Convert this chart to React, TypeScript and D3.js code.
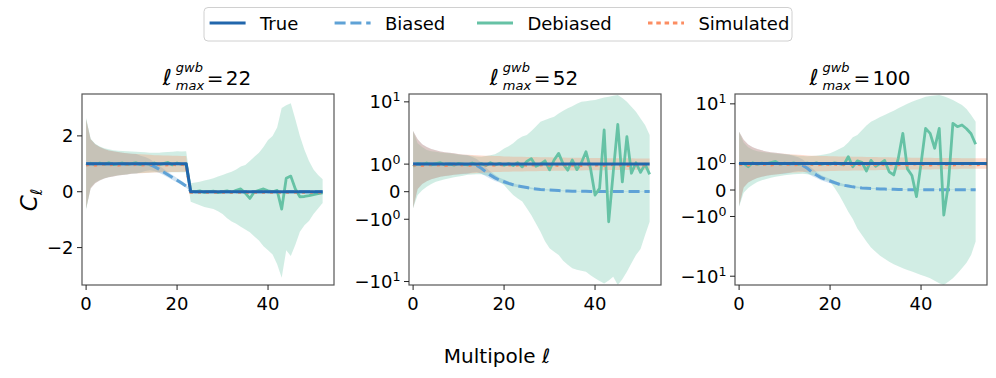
import React from 'react';
import * as d3 from 'd3';

const W = 996;
const H = 378;
const FONT = 'DejaVu Sans, sans-serif';

const C_TRUE = '#2166ac';
const C_BIAS = '#5fa2d6';
const C_DEB = '#66c2a5';
const C_SIM = '#fc8d62';

// multipole index (x categories)
const ELL = d3.range(0, 53);
const ELL_LONG = d3.range(0, 56);

const LEGEND_LABELS = ['True', 'Biased', 'Debiased', 'Simulated'];
const X_TICKS = [0, 20, 40];
const LIN_TICKS = [-2, 0, 2];
const SYM_TICKS = [-10, -1, 0, 1, 10];
const TITLES = ['22', '52', '100'];

// ---- panel 1: l_max = 22 (linear y) ----
const trueA = [1,1,1,1,1,1,1,1,1,1, 1,1,1,1,1,1,1,1,1,1, 1,1,1, 0,0,0,0,0,0,0, 0,0,0,0,0,0,0,0,0,0, 0,0,0,0,0,0,0,0,0,0, 0,0,0];
const biasA = [1,1,1,1,1,1,1,1,1,1, 1,1,0.99,0.99,0.97,0.9,0.81,0.71,0.61,0.51, 0.41,0.31,0.2,0.02,0,0,0,0,0,0, 0,0,0,0,0,0,0,0,0,0, 0,0,0,0,0,0,0,0,0,0, 0,0,0];
const debA = [0.95,1.02,0.97,1.03,0.98,1.04,0.97,1.0,1.03,0.97, 1.01,1.04,0.97,1.02,0.98,1.03,0.97,1.01,1.05,0.96, 1.03,0.98,1.0, 0.02,0.0,0.03,-0.02,0.0,0.02,-0.03,0.0,0.03,-0.02, 0.05,0.1,-0.05,-0.24,0.0,0.05,0.1,0.03,0.0,0.05, -0.62,0.48,0.56,0.1,-0.18,-0.17,-0.14,-0.1,-0.07,-0.04];
const simA = [0.96,0.98,0.95,0.97,0.99,0.96,0.98,0.95,0.97,0.99, 0.96,0.98,0.95,0.97,0.99,0.96,0.98,0.95,0.97,0.99, 0.96,0.98,0.95, -0.02,-0.02,-0.02,-0.02,-0.02,-0.02,-0.02, -0.02,-0.02,-0.02,-0.02,-0.02,-0.02,-0.02,-0.02,-0.02,-0.02, -0.02,-0.02,-0.02,-0.02,-0.02,-0.02,-0.02,-0.02,-0.02,-0.02, -0.02,-0.02,-0.02];
const simErrA = [1.6,0.88,0.7,0.6,0.53,0.48,0.45,0.42,0.4,0.38, 0.36,0.35,0.34,0.33,0.32,0.31,0.31,0.3,0.3,0.29, 0.29,0.28,0.28, 0.02,0.02,0.02,0.02,0.02,0.02,0.02, 0.02,0.02,0.02,0.02,0.02,0.02,0.02,0.02,0.02,0.02, 0.02,0.02,0.02,0.02,0.02,0.02,0.02,0.02,0.02,0.02, 0.02,0.02,0.02];
const biasErrA = [1.6,0.88,0.7,0.6,0.53,0.48,0.45,0.42,0.4,0.38, 0.36,0.35,0.3,0.25,0.2,0.16,0.13,0.11,0.1,0.09, 0.08,0.07,0.06, 0.02,0.02,0.02,0.02,0.02,0.02,0.02, 0.02,0.02,0.02,0.02,0.02,0.02,0.02,0.02,0.02,0.02, 0.02,0.02,0.02,0.02,0.02,0.02,0.02,0.02,0.02,0.02, 0.02,0.02,0.02];
const debHiA = [2.65,1.9,1.72,1.62,1.56,1.52,1.49,1.47,1.46,1.45, 1.44,1.43,1.42,1.41,1.4,1.4,1.4,1.41,1.42,1.43, 1.45,1.44,1.45, 0.3,0.33,0.36,0.4,0.44,0.48,0.55,0.6,0.66,0.72, 0.8,0.9,0.96,1.1,1.25,1.4,1.6,1.85,2.0,2.3, 3.0,3.1,3.17,2.6,2.0,1.5,1.1,0.8,0.6,0.45];
const debLoA = [-0.65,0.15,0.33,0.42,0.48,0.53,0.56,0.59,0.61,0.63, 0.65,0.66,0.67,0.68,0.69,0.7,0.7,0.7,0.7,0.7, 0.7,0.7,0.7, -0.36,-0.42,-0.48,-0.55,-0.58,-0.62,-0.7,-0.8,-0.95,-1.07, -1.15,-1.25,-1.35,-1.45,-1.6,-1.75,-1.95,-2.1,-2.25,-2.6, -3.08,-2.1,-2.3,-1.9,-1.43,-1.2,-1.05,-0.8,-0.6,-0.4];

// ---- panel 2: l_max = 52 (symlog y) ----
const trueB = [1,1,1,1,1,1,1,1,1,1, 1,1,1,1,1,1,1,1,1,1, 1,1,1,1,1,1,1,1,1,1, 1,1,1,1,1,1,1,1,1,1, 1,1,1,1,1,1,1,1,1,1, 1,1,1];
const biasB = [1,1,1,1,1,1,1,1,1,1, 0.99,0.99,0.99,0.98,0.95,0.85,0.72,0.6,0.5,0.42, 0.36,0.3,0.25,0.21,0.18,0.15,0.12,0.1,0.08,0.07, 0.06,0.05,0.04,0.03,0.025,0.02,0.018,0.015,0.012,0.01, 0.01,0.01,0.01,0.01,0.01,0.01,0.01,0.01,0.01,0.01, 0.01,0.01,0.01];
const debB = [0.92,1.03,0.98,1.04,0.97,1.02,1.05,0.97,1.01,0.96, 1.03,1.0,0.97,1.04,0.98,1.02,0.95,1.05,0.97,1.03, 0.96,1.02,0.95,1.05,0.9,1.1,1.2,0.92,1.0,1.12, 0.79,1.15,1.39,1.0,0.78,1.15,0.8,1.05,1.45,0.85, -0.12,0.12,2.71,-1.09,0.7,3.53,0.36,2.0,0.67,1.05, 0.7,1.0,0.63];
const simB = [0.96,0.98,0.95,0.97,0.99,0.96,0.98,0.95,0.97,0.99, 0.96,0.98,0.95,0.97,0.99,0.96,0.98,0.95,0.97,0.99, 0.96,0.98,0.95,0.97,0.99,0.96,0.98,0.95,0.97,0.99, 0.96,0.98,0.95,0.97,0.99,0.96,0.98,0.95,0.97,0.99, 0.96,0.98,0.95,0.97,0.99,0.96,0.98,0.95,0.97,0.99, 0.96,0.98,0.95];
const simErrB = [1.6,0.9,0.72,0.62,0.55,0.5,0.46,0.43,0.41,0.39, 0.37,0.35,0.34,0.33,0.32,0.31,0.3,0.3,0.29,0.29, 0.28,0.28,0.27,0.27,0.27,0.26,0.26,0.26,0.25,0.25, 0.25,0.24,0.24,0.24,0.23,0.23,0.23,0.23,0.22,0.22, 0.22,0.22,0.22,0.21,0.21,0.21,0.21,0.21,0.21,0.2, 0.2,0.2,0.2];
const biasErrB = [1.6,0.9,0.72,0.62,0.55,0.5,0.46,0.43,0.41,0.39, 0.37,0.35,0.34,0.28,0.24,0.2,0.16,0.13,0.11,0.09, 0.08,0.07,0.06,0.05,0.04,0.035,0.03,0.025,0.02,0.02, 0.015,0.01,0.01,0.01,0.01,0.01,0.01,0.01,0.01,0.01, 0.01,0.01,0.01,0.01,0.01,0.01,0.01,0.01,0.01,0.01, 0.01,0.01,0.01];
const debHiB = [2.59,1.76,1.62,1.51,1.47,1.45,1.42,1.4,1.39,1.37, 1.35,1.33,1.31,1.3,1.28,1.27,1.29,1.32,1.36,1.45, 1.57,1.65,1.76,1.9,2.0,2.15,2.6,3.2,3.99,4.3, 4.7,5.03,5.8,6.6,7.43,8.2,9.2,10.1,10.3,10.6, 10.9,11.5,12.2,12.7,13.3,13.8,12.0,10.1,8.0,6.34, 4.6,3.42,2.15];
const debLoB = [-0.6,-0.12,0.05,0.18,0.28,0.36,0.41,0.45,0.49,0.52, 0.55,0.58,0.61,0.62,0.63,0.63,0.6,0.55,0.45,0.35, 0.24,0.05,-0.12,-0.25,-0.36,-0.6,-0.85,-1.15,-1.45,-1.8, -2.14,-2.5,-2.92,-3.8,-4.6,-5.41,-5.8,-6.1,-6.34,-7.5, -8.62,-9.8,-10.9,-9.5,-8.0,-11.75,-9.0,-6.34,-4.3,-2.92, -2.2,-1.57,-1.09];

// ---- panel 3: l_max = 100 (symlog y) ----
const trueC = [1,1,1,1,1,1,1,1,1,1, 1,1,1,1,1,1,1,1,1,1, 1,1,1,1,1,1,1,1,1,1, 1,1,1,1,1,1,1,1,1,1, 1,1,1,1,1,1,1,1,1,1, 1,1,1,1,1,1];
const biasC = [1,1,1,1,1,1,1,1,1,1, 0.99,0.99,0.99,0.98,0.93,0.82,0.68,0.57,0.47,0.4, 0.34,0.28,0.22,0.18,0.15,0.12,0.1,0.08,0.07,0.06, 0.05,0.04,0.035,0.03,0.025,0.02,0.018,0.015,0.012,0.01, 0.01,0.01,0.01,0.01,0.01,0.01,0.01,0.01,0.01,0.01, 0.01,0.01,0.01];
const debC = [0.95,1.02,0.88,1.03,0.97,1.02,0.99,1.04,1.08,0.97, 1.02,0.98,1.03,0.97,1.0,1.02,0.98,1.03,0.97,1.01, 0.98,1.03,1.0,0.95,1.26,0.88,1.1,1.05,0.72,1.12, 0.9,1.0,1.12,0.69,0.57,1.2,2.4,0.8,0.55,-0.25, 1.0,3.06,2.4,1.58,3.06,-0.95,0.19,3.9,3.31,3.59, 3.0,2.35,1.73];
const simC = [0.96,0.98,0.95,0.97,0.99,0.96,0.98,0.95,0.97,0.99, 0.96,0.98,0.95,0.97,0.99,0.96,0.98,0.95,0.97,0.99, 0.96,0.98,0.95,0.97,0.99,0.96,0.98,0.95,0.97,0.99, 0.96,0.98,0.95,0.97,0.99,0.96,0.98,0.95,0.97,0.99, 0.96,0.98,0.95,0.97,0.99,0.96,0.98,0.95,0.97,0.99, 0.96,0.98,0.95,0.97,0.99,0.96];
const simErrC = [1.6,0.9,0.72,0.62,0.55,0.5,0.46,0.43,0.41,0.39, 0.37,0.35,0.34,0.33,0.32,0.31,0.3,0.3,0.29,0.29, 0.28,0.28,0.27,0.27,0.27,0.26,0.26,0.26,0.25,0.25, 0.25,0.24,0.24,0.24,0.23,0.23,0.23,0.23,0.22,0.22, 0.22,0.22,0.22,0.21,0.21,0.21,0.21,0.21,0.21,0.2, 0.2,0.2,0.2,0.2,0.2,0.2];
const biasErrC = [1.6,0.9,0.72,0.62,0.55,0.5,0.46,0.43,0.41,0.39, 0.37,0.35,0.3,0.26,0.22,0.18,0.15,0.12,0.1,0.09, 0.08,0.07,0.06,0.05,0.04,0.035,0.03,0.025,0.02,0.02, 0.015,0.01,0.01,0.01,0.01,0.01,0.01,0.01,0.01,0.01, 0.01,0.01,0.01,0.01,0.01,0.01,0.01,0.01,0.01,0.01, 0.01,0.01,0.01];
const debHiC = [2.6,1.8,1.62,1.52,1.47,1.44,1.42,1.4,1.38,1.36, 1.35,1.33,1.32,1.3,1.29,1.28,1.29,1.3,1.32,1.35, 1.39,1.47,1.55,1.64,1.8,2.0,2.22,2.8,3.5,4.22, 4.7,5.3,5.83,6.5,7.2,8.06,9.0,10.0,11.1,12.0, 13.0,14.1,14.6,15.0,15.3,14.5,13.2,12.0,10.7,9.44, 7.8,5.83,4.22];
const debLoC = [-0.63,-0.1,0.08,0.2,0.3,0.37,0.42,0.46,0.5,0.53, 0.56,0.58,0.6,0.61,0.62,0.6,0.57,0.52,0.45,0.38, 0.31,0.08,-0.19,-0.5,-0.82,-1.1,-1.45,-1.7,-1.95,-2.5, -3.06,-3.7,-4.3,-4.97,-5.6,-6.2,-6.84,-7.4,-8.0,-8.7, -9.4,-10.2,-11.1,-12.5,-14.0,-15.3,-13.0,-11.1,-8.8,-6.84, -5.2,-3.59,-1.95];

// layout
const TOP = 94;
const BOTTOM = 285;
const PW = 252;
const LEFTS = [82, 409, 735];
const X_DOMAIN: [number, number] = [-0.9, 54.5];

// matplotlib-like symlog (linthresh 2, linscale 1, base 10)
const LT = 2;
const LSA = 1 / (1 - 1 / 10);
const symT = (v: number) =>
  Math.abs(v) <= LT ? v * LSA : Math.sign(v) * LT * (LSA + Math.log10(Math.abs(v) / LT));
const ident = (v: number) => v;

type Spec = {
  key: string;
  left: number;
  title: string;
  symlog: boolean;
  yDomain: [number, number];
  trueV: number[];
  trueX: number[];
  biasV: number[];
  debV: number[];
  simV: number[];
  simErr: number[];
  biasErr: number[];
  debLo: number[];
  debHi: number[];
};

const PANELS: Spec[] = [
  { key: 'a', left: LEFTS[0], title: TITLES[0], symlog: false, yDomain: [-3.34, 3.5],
    trueV: trueA, trueX: ELL, biasV: biasA, debV: debA, simV: simA, simErr: simErrA, biasErr: biasErrA, debLo: debLoA, debHi: debHiA },
  { key: 'b', left: LEFTS[1], title: TITLES[1], symlog: true, yDomain: [-11.75, 14.4],
    trueV: trueB, trueX: ELL, biasV: biasB, debV: debB, simV: simB, simErr: simErrB, biasErr: biasErrB, debLo: debLoB, debHi: debHiB },
  { key: 'c', left: LEFTS[2], title: TITLES[2], symlog: true, yDomain: [-15.3, 16.1],
    trueV: trueC, trueX: ELL_LONG, biasV: biasC, debV: debC, simV: simC, simErr: simErrC, biasErr: biasErrC, debLo: debLoC, debHi: debHiC },
];

function SymTickLabel({ v, x, y }: { v: number; x: number; y: number }) {
  if (v === 0) {
    return <text x={x} y={y} textAnchor="end">0</text>;
  }
  const exp = Math.round(Math.log10(Math.abs(v)));
  return (
    <text x={x} y={y} textAnchor="end">
      {v < 0 ? '\u2212' : ''}10<tspan dy={-7} fontSize={12.6}>{exp}</tspan>
    </text>
  );
}

function Panel({ p }: { p: Spec }) {
  const x = d3.scaleLinear().domain(X_DOMAIN).range([p.left, p.left + PW]);
  const tf = p.symlog ? symT : ident;
  const yl = d3.scaleLinear().domain(p.yDomain.map(tf)).range([BOTTOM, TOP]);
  const y = (v: number) => yl(tf(v));

  const band = (xs: number[], lo: number[], hi: number[]) =>
    d3.area<number>().x((d) => x(d)).y0((_, i) => y(lo[i])).y1((_, i) => y(hi[i]))(xs) || '';
  const line = (xs: number[], vs: number[]) =>
    d3.line<number>().x((d) => x(d)).y((_, i) => y(vs[i]))(xs) || '';

  const simLo = p.trueV.map((v, i) => v - p.simErr[i]);
  const simHi = p.trueV.map((v, i) => v + p.simErr[i]);
  const biasLo = p.biasV.map((v, i) => v - p.biasErr[i]);
  const biasHi = p.biasV.map((v, i) => v + p.biasErr[i]);

  const clipId = `clip-${p.key}`;
  const cx = p.left + PW / 2;
  const numW = p.title.length * 0.636 * 20;
  const x0 = cx - (63 + numW) / 2 - 1;
  const ticks = p.symlog ? SYM_TICKS : LIN_TICKS;

  return (
    <g>
      <defs>
        <clipPath id={clipId}>
          <rect x={p.left} y={TOP} width={PW} height={BOTTOM - TOP} />
        </clipPath>
      </defs>
      <g clipPath={`url(#${clipId})`}>
        <path d={band(ELL, biasLo, biasHi)} fill={C_BIAS} fillOpacity={0.3} />
        <path d={band(ELL, p.debLo, p.debHi)} fill={C_DEB} fillOpacity={0.3} />
        <path d={band(p.trueX, simLo, simHi)} fill={C_SIM} fillOpacity={0.3} />
        <path d={line(ELL, p.biasV)} fill="none" stroke={C_BIAS} strokeWidth={3} strokeDasharray="11 4.8" />
        <path d={line(ELL, p.debV)} fill="none" stroke={C_DEB} strokeWidth={2.8} strokeLinejoin="round" />
        <path d={line(p.trueX, p.simV)} fill="none" stroke={C_SIM} strokeWidth={3} strokeDasharray="3 5" />
        <path d={line(p.trueX, p.trueV)} fill="none" stroke={C_TRUE} strokeWidth={3} strokeLinejoin="round" />
      </g>
      <rect x={p.left} y={TOP} width={PW} height={BOTTOM - TOP} fill="none" stroke="#555" strokeWidth={1.2} />
      {X_TICKS.map((t) => (
        <g key={`x${t}`}>
          <line x1={x(t)} x2={x(t)} y1={BOTTOM} y2={BOTTOM + 5} stroke="#222" strokeWidth={1} />
          <text x={x(t)} y={BOTTOM + 25} textAnchor="middle">{t}</text>
        </g>
      ))}
      {ticks.map((t) => (
        <g key={`y${t}`}>
          <line x1={p.left - 5} x2={p.left} y1={y(t)} y2={y(t)} stroke="#222" strokeWidth={1} />
          {p.symlog ? (
            <SymTickLabel v={t} x={p.left - 8.5} y={y(t) + 6.6} />
          ) : (
            <text x={p.left - 8.5} y={y(t) + 6.6} textAnchor="end">{t < 0 ? `\u2212${-t}` : t}</text>
          )}
        </g>
      ))}
      <g fontSize={20}>
        <text x={x0} y={85} fontSize={22} fontStyle="italic">ℓ</text>
        <text x={x0 + 13} y={72} fontSize={13} fontStyle="italic">gwb</text>
        <text x={x0 + 13} y={89.5} fontSize={13} fontStyle="italic">max</text>
        <text x={x0 + 44} y={85}>=</text>
        <text x={x0 + 63} y={85}>{p.title}</text>
      </g>
    </g>
  );
}

const LEGEND_X = [209.6, 334.6, 477, 648];

function Legend() {
  const styles = [
    { stroke: C_TRUE, dash: undefined as string | undefined },
    { stroke: C_BIAS, dash: '11 4.8' },
    { stroke: C_DEB, dash: undefined },
    { stroke: C_SIM, dash: '4.5 3.8' },
  ];
  return (
    <g>
      <rect x={204} y={7.5} width={588} height={33.5} rx={4} fill="#fff" fillOpacity={0.8} stroke="#d0d0d0" strokeWidth={1} />
      {LEGEND_LABELS.map((lab, i) => (
        <g key={lab}>
          <line x1={LEGEND_X[i]} x2={LEGEND_X[i] + 36} y1={23} y2={23} stroke={styles[i].stroke} strokeWidth={3} strokeDasharray={styles[i].dash} />
          <text x={LEGEND_X[i] + 50.4} y={29.5}>{lab}</text>
        </g>
      ))}
    </g>
  );
}

export default function App() {
  return (
    <div style={{ position: 'absolute', left: 0, top: 0, width: W, height: H, background: '#fff' }}>
      <svg width={W} height={H} fontFamily={FONT} fontSize={18} fill="#000">
        <rect x={0} y={0} width={W} height={H} fill="#fff" />
        <Legend />
        {PANELS.map((p) => (
          <Panel key={p.key} p={p} />
        ))}
        <text transform="translate(37,200) rotate(-90)" textAnchor="middle" fontSize={23}>
          <tspan fontStyle="italic">C</tspan>
          <tspan fontStyle="italic" fontSize={16} dy={5}>ℓ</tspan>
        </text>
        <text x={497} y={363} textAnchor="middle" fontSize={20}>
          Multipole <tspan fontStyle="italic">ℓ</tspan>
        </text>
      </svg>
    </div>
  );
}
